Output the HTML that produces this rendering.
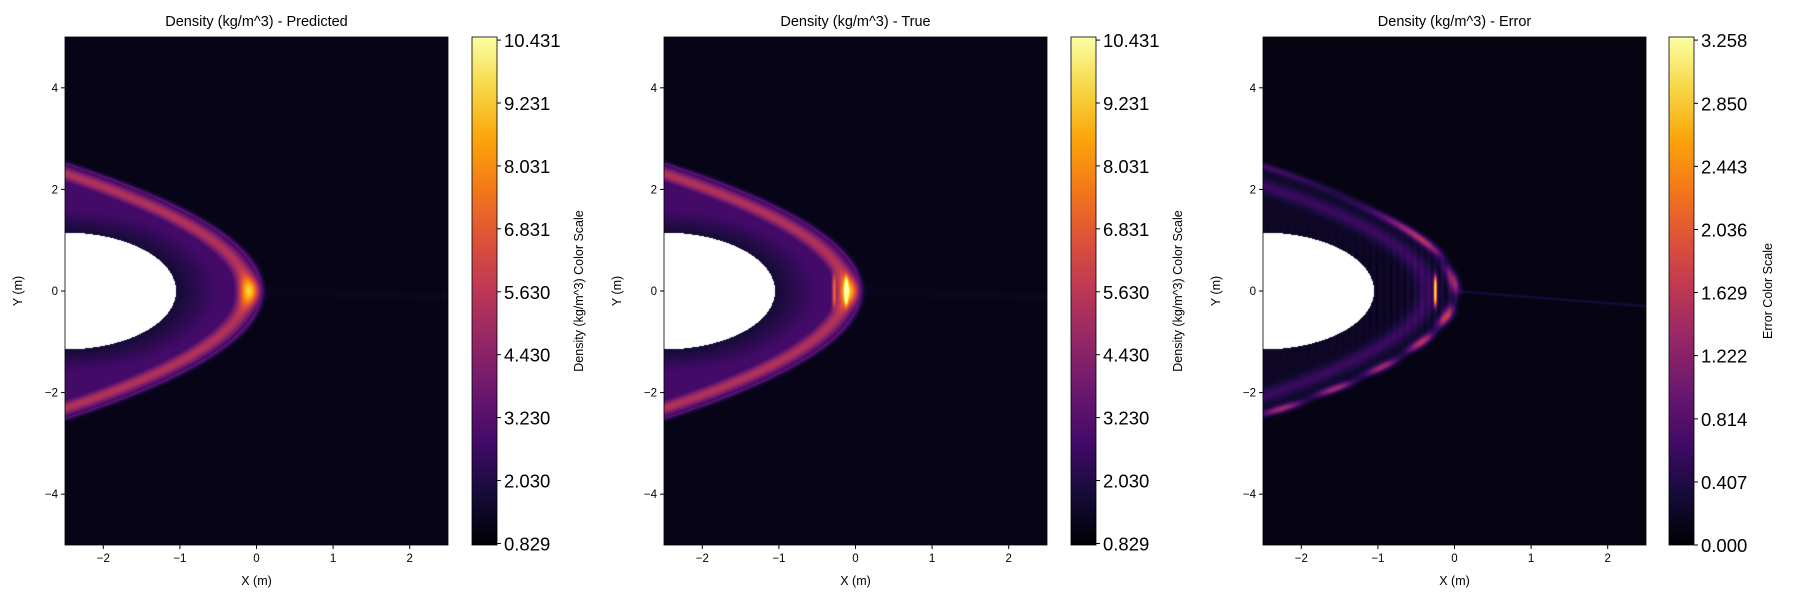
<!DOCTYPE html>
<html><head><meta charset="utf-8">
<style>
body{margin:0;background:#fff;width:1800px;height:600px;overflow:hidden;position:relative;font-family:"Liberation Sans","DejaVu Sans",sans-serif;}
canvas{position:absolute;}
svg{position:absolute;left:0;top:0;}
</style></head>
<body>
<canvas id="c0" width="383" height="508" style="left:65px;top:37px"></canvas>
<canvas id="c1" width="383" height="508" style="left:664px;top:37px"></canvas>
<canvas id="c2" width="383" height="508" style="left:1263px;top:37px"></canvas>
<svg id="ov" width="1800" height="600"></svg>
<script>
const panelTitles = ["Density (kg/m^3) - Predicted","Density (kg/m^3) - True","Density (kg/m^3) - Error"];
const cbarLabels = ["Density (kg/m^3) Color Scale","Density (kg/m^3) Color Scale","Error Color Scale"];
const densTicks = [0.829,2.030,3.230,4.430,5.630,6.831,8.031,9.231,10.431];
const densTickLabels = ["0.829","2.030","3.230","4.430","5.630","6.831","8.031","9.231","10.431"];
const errTicks = [0.000,0.407,0.814,1.222,1.629,2.036,2.443,2.850,3.258];
const errTickLabels = ["0.000","0.407","0.814","1.222","1.629","2.036","2.443","2.850","3.258"];
const xTicks = [-2,-1,0,1,2];
const yTicks = [-4,-2,0,2,4];
const densRange = [0.80, 10.49];
const errRange = [0.0, 3.278];
// flow-field descriptors (m, kg/m^3)
const shockTip = [0.05];
const shockCurv = [0.41];
const bodySemiAxes = [1.45, 1.15];
const bgDensity = [0.95];
const flankPeak = [5.3];
const stagPeak = [10.4];
const layerDensity = [2.6];
const trueStreakX = [-0.28, -0.12];
const errStreakX = [-0.25];
const errStreakPeak = [2.9];
const errBandPeak = [1.25];

const infernoStops=[[0,0,4],[22,11,57],[66,10,104],[106,23,110],[147,38,103],[188,55,84],[221,81,58],[243,120,25],[252,165,10],[246,215,70],[252,255,164]];
function inferno(t){t=Math.max(0,Math.min(1,t));const f=t*10,i=Math.min(9,Math.floor(f)),r=f-i;const a=infernoStops[i],b=infernoStops[i+1];return [a[0]+(b[0]-a[0])*r,a[1]+(b[1]-a[1])*r,a[2]+(b[2]-a[2])*r];}

const X0=-2.5,X1=2.5,Y0=-5,Y1=5,W=383,H=508;
function xs(x){return (x-X0)/(X1-X0)*W;}
function ys(y){return (Y1-y)/(Y1-Y0)*H;}
function inBody(x,y){const dx=(x+2.5)/bodySemiAxes[0],dy=y/bodySemiAxes[1];return dx*dx+dy*dy<=1;}
function shockDist(x,y){const k=shockCurv[0];const d=shockTip[0]-k*y*y-x;return d/Math.sqrt(1+4*k*k*y*y);}
function bodyDist(x,y){const dx=(x+2.5)/bodySemiAxes[0],dy=y/bodySemiAxes[1];return (Math.sqrt(dx*dx+dy*dy)-1)*1.2;}
function density(x,y,isTrue){
  const dp=shockDist(x,y);let v=bgDensity[0];
  if(dp<0){v+=2.5*Math.exp(-Math.pow(dp/0.05,2));}
  else{
    const db=Math.max(0,bodyDist(x,y));
    const plate=(layerDensity[0]-bgDensity[0])*(0.35+0.65*Math.min(1,db/0.45));
    const A=(flankPeak[0]-bgDensity[0])+(stagPeak[0]-flankPeak[0])*Math.exp(-Math.pow(y/0.3,2))*Math.exp(-Math.pow(x/0.25,2));
    const peak=A*Math.exp(-Math.pow((dp-0.17)/0.16,2));
    v=bgDensity[0]+Math.max(plate*Math.min(1,dp/0.08),peak);
    if(isTrue){for(const sx of trueStreakX){v+=4*Math.exp(-Math.pow((x-sx)/0.025,2))*Math.exp(-Math.pow(y/0.3,4));}}
  }
  if(x>0&&Math.abs(y+0.05*x)<0.2)v+=0.15*Math.exp(-Math.pow((y+0.05*x)/0.1,2));
  return v;
}
function err(x,y){
  const dp=shockDist(x,y);let v=0.02;
  if(dp>-0.08){
    const db=Math.max(0,bodyDist(x,y));
    v+=errBandPeak[0]*Math.exp(-Math.pow((dp-0.05)/0.07,2))*(0.6+0.4*Math.sin(y*9+x*4))*(1+0.5*Math.exp(-Math.pow((Math.abs(y)-0.7)/0.3,2)));
    v+=0.4*Math.exp(-Math.pow((dp-0.4)/0.15,2));
    if(dp>0) v+=0.12+0.08*Math.sin(x*70)*Math.exp(-Math.pow(y/0.9,2))*(db>0?1:0);
    v+=errStreakPeak[0]*Math.exp(-Math.pow((x-errStreakX[0])/0.02,2))*Math.exp(-Math.pow(y/0.3,4));
  }
  if(x>0.05&&Math.abs(y+0.12*x)<0.1)v+=0.25*Math.exp(-Math.pow((y+0.12*x)/0.03,2));
  return v;
}
function paint(id,fn,range){
  const c=document.getElementById(id),ctx=c.getContext('2d'),img=ctx.createImageData(W,H);
  for(let j=0;j<H;j++)for(let i=0;i<W;i++){
    const x=X0+(i+0.5)/W*(X1-X0),y=Y1-(j+0.5)/H*(Y1-Y0),p=(j*W+i)*4;
    let col;
    if(inBody(x,y))col=[255,255,255];else{col=inferno((fn(x,y)-range[0])/(range[1]-range[0])*0.98+0.02);}
    img.data[p]=col[0];img.data[p+1]=col[1];img.data[p+2]=col[2];img.data[p+3]=255;
  }
  ctx.putImageData(img,0,0);
}
paint('c0',(x,y)=>density(x,y,false),densRange);
paint('c1',(x,y)=>density(x,y,true),densRange);
paint('c2',err,errRange);

const ns='http://www.w3.org/2000/svg',ov=document.getElementById('ov');
function mk(tag,attrs,parent){const e=document.createElementNS(ns,tag);for(const k in attrs)e.setAttribute(k,attrs[k]);(parent||ov).appendChild(e);return e;}
const grad=mk('defs',{});const lg=mk('linearGradient',{id:'inf',x1:0,y1:1,x2:0,y2:0},grad);
infernoStops.forEach((c,i)=>mk('stop',{offset:i/10,'stop-color':`rgb(${c})`},lg));
const lefts=[65,664,1263],cbl=[472,1071,1669],cbOff=[86,86,78];
for(let p=0;p<3;p++){
  const L=lefts[p],T=37,g=mk('g',{});
  
  
  mk('rect',{x:L,y:T,width:W,height:H,fill:'none',stroke:'#000','stroke-width':0.8},g);
  const t=mk('text',{x:L+W/2,y:26,'text-anchor':'middle','font-size':14.5},g);t.textContent=panelTitles[p];
  
  for(const v of xTicks){const px=L+xs(v);mk('line',{x1:px,x2:px,y1:T+H,y2:T+H+4,stroke:'#000'},g);
    const tx=mk('text',{x:px,y:T+H+17,'text-anchor':'middle','font-size':11.5},g);tx.textContent=(v<0?'\u2212':'')+Math.abs(v);
    }
  for(const v of yTicks){const py=T+ys(v);mk('line',{x1:L-4,x2:L,y1:py,y2:py,stroke:'#000'},g);
    const ty=mk('text',{x:L-7,y:py+4,'text-anchor':'end','font-size':11.5},g);ty.textContent=(v<0?'\u2212':'')+Math.abs(v);
    }
  const xl=mk('text',{x:L+W/2,y:585,'text-anchor':'middle','font-size':12.5},g);xl.textContent='X (m)';
  
  const yl=mk('text',{x:0,y:0,'text-anchor':'middle','font-size':12.5,transform:`translate(${L-43},291) rotate(-90)`},g);yl.textContent='Y (m)';
  
  const C=cbl[p],cw=25;
  const cb=mk('rect',{x:C,y:T,width:cw,height:H,fill:'url(#inf)',stroke:'#000','stroke-width':0.8},g);
  
  const ticks=p<2?densTicks:errTicks,labs=p<2?densTickLabels:errTickLabels,rg=p<2?densRange:errRange;
  ticks.forEach((v,i)=>{const py=T+H-(v-rg[0])/(rg[1]-rg[0])*H;mk('line',{x1:C+cw,x2:C+cw+4,y1:py,y2:py,stroke:'#000'},g);
    const tl=mk('text',{x:C+cw+7,y:py+7,'font-size':18.5},g);tl.textContent=labs[i];
    });
  const cl=mk('text',{x:0,y:0,'text-anchor':'middle','font-size':12.5,transform:`translate(${C+cw+cbOff[p]},291) rotate(-90)`},g);cl.textContent=cbarLabels[p];
  
}
</script>
</body></html>
